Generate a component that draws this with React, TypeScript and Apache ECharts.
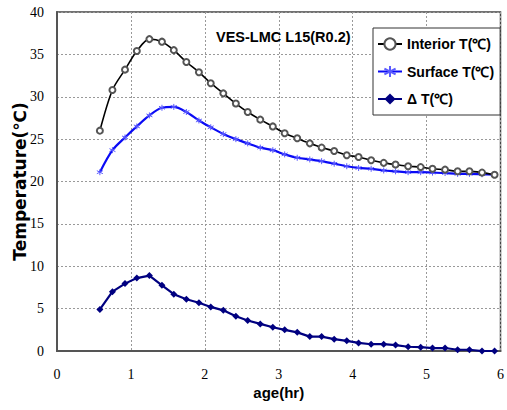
import React, { useEffect, useRef } from "react";
import * as echarts from "echarts";

const ageHours = [
  0.58, 0.75, 0.92, 1.08, 1.25, 1.42, 1.58, 1.75, 1.92, 2.08, 2.25, 2.42, 2.58,
  2.75, 2.92, 3.08, 3.25, 3.42, 3.58, 3.75, 3.92, 4.08, 4.25, 4.42, 4.58, 4.75,
  4.92, 5.08, 5.25, 5.42, 5.58, 5.75, 5.92,
];

const interiorT = [
  26.0, 30.8, 33.2, 35.4, 36.8, 36.5, 35.5, 34.1, 32.9, 31.6, 30.4, 29.2, 28.2,
  27.3, 26.5, 25.7, 25.1, 24.5, 24.0, 23.6, 23.1, 22.9, 22.5, 22.2, 22.0, 21.8,
  21.7, 21.5, 21.4, 21.2, 21.2, 21.05, 20.8,
];

const surfaceT = [
  21.1, 23.7, 25.2, 26.5, 27.8, 28.7, 28.8, 28.2, 27.2, 26.4, 25.6, 25.0, 24.5,
  24.0, 23.7, 23.2, 22.8, 22.6, 22.4, 22.1, 21.8, 21.6, 21.5, 21.3, 21.2, 21.1,
  21.1, 21.05, 21.0, 20.9, 20.9, 20.85, 20.8,
];

const deltaT = [
  4.9, 7.0, 7.95, 8.6, 8.9, 7.75, 6.7, 6.1, 5.7, 5.2, 4.8, 4.1, 3.6, 3.2, 2.8,
  2.5, 2.2, 1.7, 1.7, 1.4, 1.2, 0.95, 0.8, 0.8, 0.7, 0.5, 0.45, 0.35, 0.35,
  0.15, 0.15, 0.0, 0.0,
];

const seriesNames = ["Interior T(℃)", "Surface T(℃)", "\u0394 T(℃)"];
const chartTitle = "VES-LMC L15(R0.2)";

const SANS = "'Liberation Sans', Arial, sans-serif";
const SERIF = "'Liberation Serif', 'DejaVu Serif', serif";

const pair = (ys: number[]) => ageHours.map((x, i) => [x, ys[i]]);

export default function App() {
  const ref = useRef<HTMLDivElement>(null);
  useEffect(() => {
    document.body.style.margin = "0";
    if (!ref.current) return;
    const chart = echarts.init(ref.current, undefined, { renderer: "svg" });
    chart.setOption({
      animation: false,
      backgroundColor: "#fff",
      title: {
        text: chartTitle,
        left: 216,
        top: 29,
        padding: 0,
        textStyle: { fontFamily: SANS, fontSize: 14.5, fontWeight: "bold", color: "#000" },
      },
      legend: {
        orient: "vertical",
        left: 373,
        top: 28,
        padding: [9, 6, 9, 4],
        itemGap: 13.5,
        itemWidth: 24,
        itemHeight: 14,
        backgroundColor: "#fff",
        borderColor: "#333",
        borderWidth: 1,
        borderRadius: 0,
        textStyle: { fontFamily: SANS, fontSize: 14, fontWeight: "bold", color: "#000" },
        data: seriesNames,
      },
      grid: {
        left: 57,
        right: 3,
        top: 12,
        bottom: 59,
        show: true,
        borderColor: "#444",
        borderWidth: 1.5,
        containLabel: false,
      },
      xAxis: {
        type: "value",
        min: 0,
        max: 6,
        interval: 1,
        name: "age(hr)",
        nameLocation: "middle",
        nameGap: 34,
        nameMoveOverlap: false,
        nameTextStyle: { fontFamily: SANS, fontSize: 15, fontWeight: "bold", color: "#000" },
        axisLine: { show: true, onZero: false, lineStyle: { color: "#555", width: 2 } },
        axisTick: { show: false },
        axisLabel: { margin: 16, fontFamily: SERIF, fontSize: 14, color: "#000" },
        splitLine: { show: true, lineStyle: { color: "#999", type: [2, 2], width: 1 } },
      },
      yAxis: {
        type: "value",
        min: 0,
        max: 40,
        interval: 5,
        name: "Temperature(℃)",
        nameLocation: "middle",
        nameRotate: 90,
        nameGap: 29,
        nameMoveOverlap: false,
        nameTextStyle: { fontFamily: "'DejaVu Sans', sans-serif", fontSize: 17, fontWeight: "bold", color: "#000" },
        axisLine: { show: true, lineStyle: { color: "#555", width: 2 } },
        axisTick: { show: false },
        axisLabel: { margin: 13, fontFamily: SERIF, fontSize: 14, color: "#000" },
        splitLine: { show: true, lineStyle: { color: "#999", type: [2, 2], width: 1 } },
      },
      series: [
        {
          name: seriesNames[0],
          type: "line",
          data: pair(interiorT),
          smooth: 0.3,
          symbol: "emptyCircle",
          symbolSize: 6,
          lineStyle: { color: "#000", width: 1.6 },
          itemStyle: { color: "#555", borderWidth: 1 },
          z: 3,
        },
        {
          name: seriesNames[1],
          type: "line",
          data: pair(surfaceT),
          smooth: 0.3,
          symbol: "path://M5,0L5,10M0.7,2.5L9.3,7.5M0.7,7.5L9.3,2.5",
          symbolSize: 6,
          lineStyle: { color: "#0a0af5", width: 2.2 },
          itemStyle: { color: "#5a5aff", borderColor: "#5a5aff", borderWidth: 1 },
          z: 2,
        },
        {
          name: seriesNames[2],
          type: "line",
          data: pair(deltaT),
          smooth: false,
          symbol: "diamond",
          symbolSize: 7,
          lineStyle: { color: "#000080", width: 2.2 },
          itemStyle: { color: "#000080" },
          z: 2,
        },
      ],
    });
    return () => chart.dispose();
  }, []);
  return <div ref={ref} style={{ width: 507, height: 410 }} />;
}
